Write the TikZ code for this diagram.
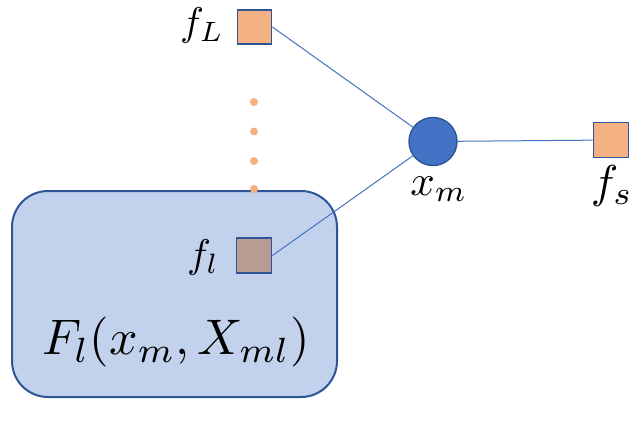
\documentclass[tikz,border=0pt]{standalone}
\usepackage{graphicx}
\usepackage{tikz}
\definecolor{lorange}{HTML}{F4B183}
\definecolor{bordblue}{HTML}{2F5597}
\definecolor{nodeblue}{HTML}{4472C4}
\definecolor{boxfill}{HTML}{C3D2EC}
\definecolor{brownfill}{HTML}{B89C93}
\tikzset{
  factor/.style={draw=bordblue, line width=1.8pt, fill=lorange, minimum size=34pt, inner sep=0pt},
  varnode/.style={circle, draw=bordblue, line width=1.4pt, fill=nodeblue, minimum size=48pt, inner sep=0pt},
  link/.style={draw=nodeblue, line width=1pt},
  dotmark/.style={circle, fill=lorange, minimum size=8pt, inner sep=0pt},
  region/.style={draw=bordblue, line width=2pt, fill=boxfill, rounded corners=36pt},
  lbl/.style={inner sep=0pt},
}
\begin{document}
\begin{tikzpicture}[x=1pt,y=-1pt]
\useasboundingbox (0,0) rectangle (640,426);
\fill[white] (0,0) rectangle (640,426);
% region box
\node[region, minimum width=325pt, minimum height=206pt, inner sep=0pt] (box) at (174.5,294) {};
% dots
\node[dotmark] (d1) at (254,102) {};
\node[dotmark] (d2) at (254,131.5) {};
\node[dotmark] (d3) at (254,161) {};
\node[dotmark] (d4) at (254,189) {};
% factors
\node[factor] (fL) at (254.5,27) {};
\node[factor, fill=brownfill, minimum size=35pt] (fl) at (254,255.5) {};
\node[factor, minimum size=35pt] (fs) at (611,140) {};
% variable
\node[varnode] (xm) at (433,141.5) {};
% links
\draw[link] (fL.east) -- (xm);
\draw[link] (fl.east) -- (xm);
\draw[link] (xm) -- (fs);
% labels
\node[lbl] (lfL) at (202,25) {\scalebox{4.0}{$f_L$}};
\node[lbl] (lfl) at (203,257) {\scalebox{4.0}{$f_l$}};
\node[lbl] (lxm) at (439,189) {\scalebox{4.3}{$x_m$}};
\node[lbl] (lfs) at (612,186) {\scalebox{4.6}{$f_s$}};
\node[lbl] (F) at (176,342) {\scalebox{5.0}{$F_l(x_m, X_{ml})$}};
\end{tikzpicture}
\end{document}
